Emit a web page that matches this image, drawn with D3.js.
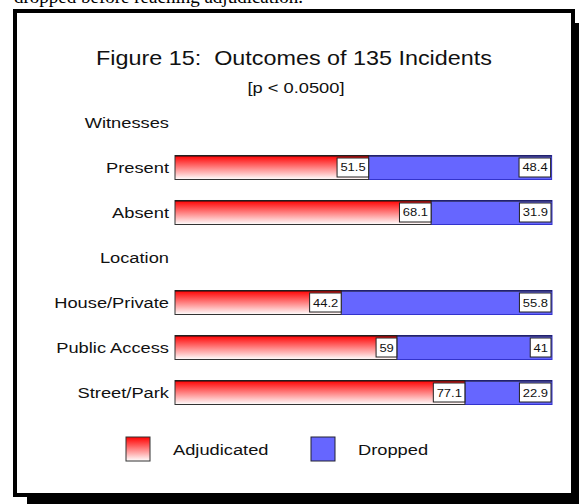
<!DOCTYPE html>
<html>
<head>
<meta charset="utf-8">
<script src="https://cdn.jsdelivr.net/npm/d3@7"></script>
<style>
  html, body { margin: 0; padding: 0; background: #fff; }
  svg { display: block; }
  text { white-space: pre; }
</style>
</head>
<body>
<script>
// Rows of the chart: group headings (no bar) and categories
const rows = ["Witnesses", "Present", "Absent", "Location", "House/Private", "Public Access", "Street/Park"];
const categories = ["Present", "Absent", "House/Private", "Public Access", "Street/Park"];
const adjudicated = [51.5, 68.1, 44.2, 59, 77.1];
const dropped = [48.4, 31.9, 55.8, 41, 22.9];
const seriesNames = ["Adjudicated", "Dropped"];
const titleText = "Figure 15:  Outcomes of 135 Incidents";
const subtitleText = "[p < 0.0500]";
const captionText = "dropped before reaching adjudication.";

const W = 579, H = 504;
const SANS = "Liberation Sans, Arial, sans-serif";
const STRETCH = 1.18; // the chart's sans text is set slightly wide

const svg = d3.select("body").append("svg").attr("width", W).attr("height", H);

const defs = svg.append("defs");
const grad = defs.append("linearGradient").attr("id", "redGrad")
  .attr("x1", 0).attr("y1", 0).attr("x2", 0).attr("y2", 1);
grad.append("stop").attr("offset", "0%").attr("stop-color", "#ff0000");
grad.append("stop").attr("offset", "100%").attr("stop-color", "#ffffff");

// Wide sans-serif text placed at (x, y)
function wideText(parent, x, y, str, size, anchor) {
  return parent.append("text")
    .attr("transform", `translate(${x},${y}) scale(${STRETCH},1)`)
    .attr("text-anchor", anchor || "start")
    .attr("font-family", SANS).attr("font-size", size)
    .attr("fill", "#111").text(str);
}

// Running text above the figure frame
svg.append("text").attr("x", 14).attr("y", 3)
  .attr("font-family", "Liberation Serif, Times New Roman, serif")
  .attr("font-size", 19).attr("fill", "#000").text(captionText);

// Frame with drop shadow
svg.append("rect").attr("x", 27).attr("y", 23).attr("width", 600).attr("height", 500).attr("fill", "#000");
svg.append("rect").attr("x", 15).attr("y", 11).attr("width", 558).attr("height", 484)
  .attr("fill", "#fff").attr("stroke", "#000").attr("stroke-width", 4);

// Titles
wideText(svg, 294, 65, titleText, 19.8, "middle");
wideText(svg, 296, 93, subtitleText, 15.5, "middle");

// Scales
const x = d3.scaleLinear().domain([0, 100]).range([175, 551]);
const y = d3.scaleBand().domain(rows).range([100, 415]).paddingInner(0.4667).paddingOuter(0.2333);

// Row labels
const labelG = svg.append("g");
rows.forEach(r => {
  wideText(labelG, 169, y(r) + y.bandwidth() / 2 + 5.5, r, 15.5, "end");
});

const data = categories.map((c, i) => ({ cat: c, a: adjudicated[i], d: dropped[i] }));

const bars = svg.append("g").selectAll("g").data(data).join("g");

// Dropped segment (flat blue)
bars.append("rect")
  .attr("x", d => x(d.a)).attr("y", d => y(d.cat))
  .attr("width", d => x(d.a + d.d) - x(d.a) + 1).attr("height", y.bandwidth())
  .attr("fill", "#6666ff").attr("stroke", "#3333cc").attr("stroke-width", 1);

// Adjudicated segment (red gradient)
bars.append("rect")
  .attr("x", x(0)).attr("y", d => y(d.cat))
  .attr("width", d => x(d.a) - x(0)).attr("height", y.bandwidth())
  .attr("fill", "url(#redGrad)").attr("stroke", "#333").attr("stroke-width", 1);

// Top edge across the whole bar
bars.append("line")
  .attr("x1", x(0)).attr("x2", d => x(d.a + d.d) + 1)
  .attr("y1", d => y(d.cat) + 0.5).attr("y2", d => y(d.cat) + 0.5)
  .attr("stroke", "#111").attr("stroke-width", 1.2);

// Value boxes
function valueBox(g, xRight, yMid, txt) {
  const t = wideText(g, xRight - 3, yMid + 4, txt, 11, "end");
  const w = t.node().getBBox().width * STRETCH;
  g.insert("rect", () => t.node())
    .attr("x", xRight - w - 6).attr("y", yMid - 9.5).attr("width", w + 6).attr("height", 19)
    .attr("fill", "#fff").attr("stroke", "#222").attr("stroke-width", 1);
}
bars.each(function (d) {
  const g = d3.select(this);
  const ym = y(d.cat) + y.bandwidth() / 2;
  valueBox(g, x(d.a), ym, String(d.a));
  valueBox(g, x(d.a + d.d), ym, String(d.d));
});

// Legend
const legend = svg.append("g");
const legX = [126, 311];
seriesNames.forEach((name, i) => {
  legend.append("rect").attr("x", legX[i]).attr("y", 437).attr("width", 24).attr("height", 24)
    .attr("fill", i === 0 ? "url(#redGrad)" : "#6666ff")
    .attr("stroke", i === 0 ? "#333" : "#222233").attr("stroke-width", 1);
  wideText(legend, legX[i] + 47, 455, name, 15.5, "start");
});
</script>
</body>
</html>
